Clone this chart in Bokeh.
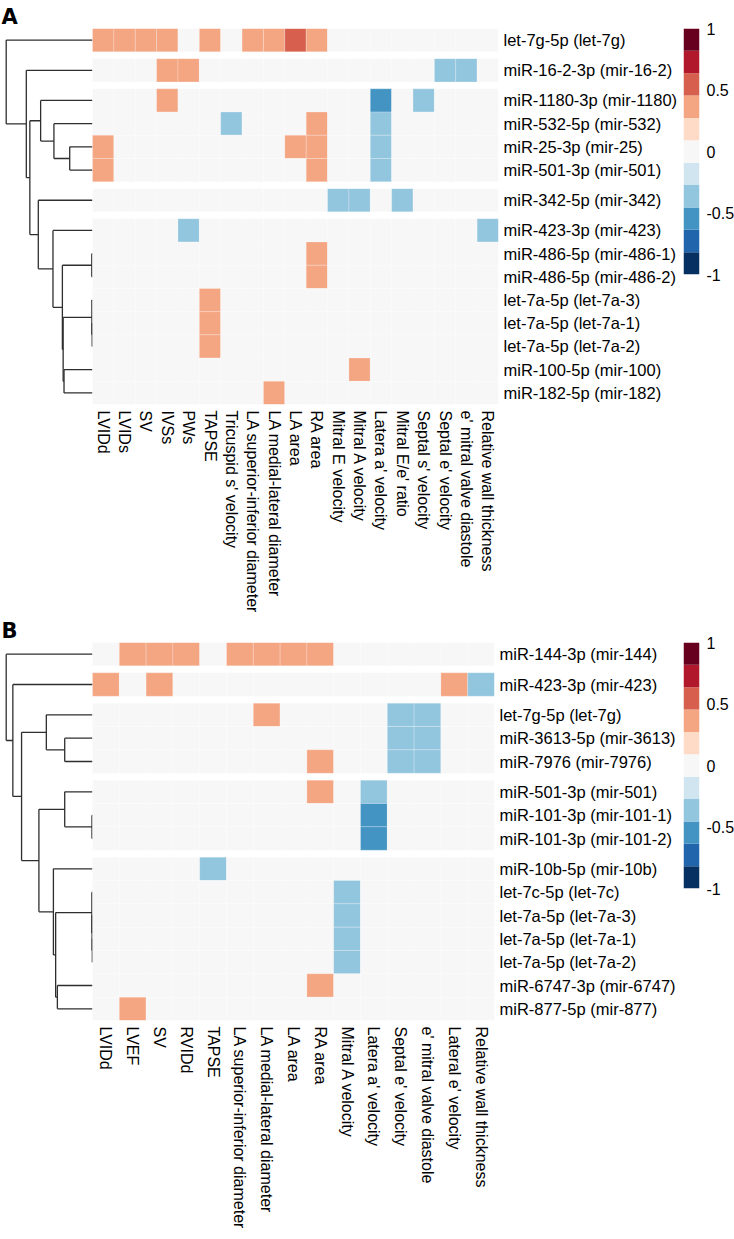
import math
import numpy as np
from bokeh.plotting import figure
from bokeh.models import Range1d, FixedTicker, LinearAxis, ColumnDataSource
from bokeh.layouts import row, column
from bokeh.transform import linear_cmap
from bokeh.embed import file_html
from bokeh.resources import INLINE

# ---------------- data ----------------
PALETTE = ["#053061", "#2166ac", "#4393c3", "#92c5de", "#d1e5f0", "#f7f7f7",
           "#fddbc7", "#f4a582", "#d6604d", "#b2182b", "#67001f"]
CBAR_TICKS = [-1, -0.5, 0, 0.5, 1]
CBAR_LABELS = ["-1", "-0.5", "0", "0.5", "1"]

cols_a = ["LVIDd", "LVIDs", "SV", "IVSs", "PWs", "TAPSE", "Tricuspid s' velocity",
          "LA superior-inferior diameter", "LA medial-lateral diameter", "LA area",
          "RA area", "Mitral E velocity", "Mitral A velocity", "Latera a' velocity",
          "Mitral E/e' ratio", "Septal s' velocity", "Septal e' velocity",
          "e' mitral valve diastole", "Relative wall thickness"]
rows_a = ["let-7g-5p (let-7g)", "miR-16-2-3p (mir-16-2)", "miR-1180-3p (mir-1180)",
          "miR-532-5p (mir-532)", "miR-25-3p (mir-25)", "miR-501-3p (mir-501)",
          "miR-342-5p (mir-342)", "miR-423-3p (mir-423)", "miR-486-5p (mir-486-1)",
          "miR-486-5p (mir-486-2)", "let-7a-5p (let-7a-3)", "let-7a-5p (let-7a-1)",
          "let-7a-5p (let-7a-2)", "miR-100-5p (mir-100)", "miR-182-5p (mir-182)"]
groups_a = [1, 1, 4, 1, 8]
vals_a = [
    [.35, .35, .35, .35, 0, .35, 0, .35, .35, .5, .35, 0, 0, 0, 0, 0, 0, 0, 0],
    [0, 0, 0, .35, .35, 0, 0, 0, 0, 0, 0, 0, 0, 0, 0, 0, -.35, -.35, 0],
    [0, 0, 0, .35, 0, 0, 0, 0, 0, 0, 0, 0, 0, -.5, 0, -.35, 0, 0, 0],
    [0, 0, 0, 0, 0, 0, -.35, 0, 0, 0, .35, 0, 0, -.35, 0, 0, 0, 0, 0],
    [.35, 0, 0, 0, 0, 0, 0, 0, 0, .35, .35, 0, 0, -.35, 0, 0, 0, 0, 0],
    [.35, 0, 0, 0, 0, 0, 0, 0, 0, 0, .35, 0, 0, -.35, 0, 0, 0, 0, 0],
    [0, 0, 0, 0, 0, 0, 0, 0, 0, 0, 0, -.35, -.35, 0, -.35, 0, 0, 0, 0],
    [0, 0, 0, 0, -.35, 0, 0, 0, 0, 0, 0, 0, 0, 0, 0, 0, 0, 0, -.35],
    [0, 0, 0, 0, 0, 0, 0, 0, 0, 0, .35, 0, 0, 0, 0, 0, 0, 0, 0],
    [0, 0, 0, 0, 0, 0, 0, 0, 0, 0, .35, 0, 0, 0, 0, 0, 0, 0, 0],
    [0, 0, 0, 0, 0, .35, 0, 0, 0, 0, 0, 0, 0, 0, 0, 0, 0, 0, 0],
    [0, 0, 0, 0, 0, .35, 0, 0, 0, 0, 0, 0, 0, 0, 0, 0, 0, 0, 0],
    [0, 0, 0, 0, 0, .35, 0, 0, 0, 0, 0, 0, 0, 0, 0, 0, 0, 0, 0],
    [0, 0, 0, 0, 0, 0, 0, 0, 0, 0, 0, 0, .35, 0, 0, 0, 0, 0, 0],
    [0, 0, 0, 0, 0, 0, 0, 0, .35, 0, 0, 0, 0, 0, 0, 0, 0, 0, 0],
]
# dendrogram: merges of leaves (0..14) / earlier clusters (15..), with relative heights
merges_a = [(11, 12), (10, 15), (8, 9), (4, 5), (13, 14), (16, 19), (17, 20),
            (3, 18), (7, 21), (2, 22), (6, 23), (24, 25), (1, 26), (0, 27)]
heights_a = [0.0035, 0.007, 0.008, 0.264, 0.330, 0.340, 0.349,
             0.447, 0.458, 0.601, 0.628, 0.726, 0.767, 1.0]

cols_b = ["LVIDd", "LVEF", "SV", "RVIDd", "TAPSE", "LA superior-inferior diameter",
          "LA medial-lateral diameter", "LA area", "RA area", "Mitral A velocity",
          "Latera a' velocity", "Septal e' velocity", "e' mitral valve diastole",
          "Lateral e' velocity", "Relative wall thickness"]
rows_b = ["miR-144-3p (mir-144)", "miR-423-3p (mir-423)", "let-7g-5p (let-7g)",
          "miR-3613-5p (mir-3613)", "miR-7976 (mir-7976)", "miR-501-3p (mir-501)",
          "miR-101-3p (mir-101-1)", "miR-101-3p (mir-101-2)", "miR-10b-5p (mir-10b)",
          "let-7c-5p (let-7c)", "let-7a-5p (let-7a-3)", "let-7a-5p (let-7a-1)",
          "let-7a-5p (let-7a-2)", "miR-6747-3p (mir-6747)", "miR-877-5p (mir-877)"]
groups_b = [1, 1, 3, 3, 7]
vals_b = [
    [0, .35, .35, .35, 0, .35, .35, .35, .35, 0, 0, 0, 0, 0, 0],
    [.35, 0, .35, 0, 0, 0, 0, 0, 0, 0, 0, 0, 0, .35, -.35],
    [0, 0, 0, 0, 0, 0, .35, 0, 0, 0, 0, -.35, -.35, 0, 0],
    [0, 0, 0, 0, 0, 0, 0, 0, 0, 0, 0, -.35, -.35, 0, 0],
    [0, 0, 0, 0, 0, 0, 0, 0, .35, 0, 0, -.35, -.35, 0, 0],
    [0, 0, 0, 0, 0, 0, 0, 0, .35, 0, -.35, 0, 0, 0, 0],
    [0, 0, 0, 0, 0, 0, 0, 0, 0, 0, -.5, 0, 0, 0, 0],
    [0, 0, 0, 0, 0, 0, 0, 0, 0, 0, -.5, 0, 0, 0, 0],
    [0, 0, 0, 0, -.35, 0, 0, 0, 0, 0, 0, 0, 0, 0, 0],
    [0, 0, 0, 0, 0, 0, 0, 0, 0, -.35, 0, 0, 0, 0, 0],
    [0, 0, 0, 0, 0, 0, 0, 0, 0, -.35, 0, 0, 0, 0, 0],
    [0, 0, 0, 0, 0, 0, 0, 0, 0, -.35, 0, 0, 0, 0, 0],
    [0, 0, 0, 0, 0, 0, 0, 0, 0, -.35, 0, 0, 0, 0, 0],
    [0, 0, 0, 0, 0, 0, 0, 0, .35, 0, 0, 0, 0, 0, 0],
    [0, .35, 0, 0, 0, 0, 0, 0, 0, 0, 0, 0, 0, 0, 0],
]
merges_b = [(11, 12), (10, 15), (9, 16), (6, 7), (3, 4), (5, 18), (13, 14),
            (17, 21), (8, 22), (2, 19), (20, 23), (24, 25), (1, 26), (0, 27)]
heights_b = [0.002, 0.005, 0.007, 0.006, 0.322, 0.322, 0.407,
             0.427, 0.453, 0.535, 0.621, 0.822, 0.923, 1.0]

# ---------------- layout constants ----------------
FONT = "Liberation Sans"
FS_ROW = "16.5px"
FS_COL = "16px"
DENDRO_PX = 92
ROOT_PAD = 5.7
FRAME_H = 378
ROW_U, GAP_U = 10, 3
FIG_W = 680
CB_LEFT, CB_W, CB_RIGHT = 3, 16, 35
CB_H = 246


def style_axis(ax, size):
    ax.axis_line_color = None
    ax.major_tick_line_color = None
    ax.minor_tick_line_color = None
    ax.major_tick_in = 0
    ax.major_tick_out = 0
    ax.minor_tick_in = 0
    ax.minor_tick_out = 0
    ax.major_label_text_font = FONT
    ax.major_label_text_font_size = size
    ax.major_label_text_color = "black"


def make_panel(letter, rows, cols, groups, vals, merges, heights, heat_px, top, bottom):
    ncol = len(cols)
    yc = []
    i = 0
    for g, n in enumerate(groups):
        for _ in range(n):
            yc.append(-(ROW_U * i + GAP_U * g))
            i += 1
    xc = [ROW_U * j + ROW_U / 2 for j in range(ncol)]
    x_end = ROW_U * ncol
    x_start = -x_end * DENDRO_PX / heat_px
    frame_w = heat_px + DENDRO_PX
    p = figure(width=FIG_W, height=top + FRAME_H + bottom,
               min_border_left=0, min_border_right=FIG_W - frame_w,
               min_border_top=top, min_border_bottom=bottom,
               x_range=Range1d(x_start, x_end),
               y_range=Range1d(yc[-1] - ROW_U / 2, ROW_U / 2),
               x_axis_location=None, y_axis_location=None,
               output_backend="svg", toolbar_location=None)
    p.outline_line_color = None
    p.background_fill_color = "white"
    p.border_fill_color = "white"
    p.grid.visible = False

    p.title.text = letter
    p.title.text_font = "DejaVu Sans"
    p.title.text_font_style = "bold"
    p.title.text_font_size = "21px"
    p.title.text_line_height = 1.0
    p.title.align = "left"
    p.title.offset = 1
    p.title.standoff = 0
    p.title.text_color = "black"

    # dendrogram
    xscale = (DENDRO_PX - ROOT_PAD) * x_end / heat_px / max(heights)
    node_y = list(yc)
    node_h = [0.0] * len(yc)
    x0, y0, x1, y1 = [], [], [], []
    for (a, b), h in zip(merges, heights):
        xp = -h * xscale
        x0.append(xp); y0.append(node_y[a]); x1.append(xp); y1.append(node_y[b])
        for c in (a, b):
            x0.append(xp); y0.append(node_y[c]); x1.append(-node_h[c] * xscale); y1.append(node_y[c])
        node_y.append((node_y[a] + node_y[b]) / 2)
        node_h.append(h)
    p.segment(x0, y0, x1, y1, line_color="#2e2e2e", line_width=1.3)

    # heatmap cells
    cx, cy, cv = [], [], []
    for r, rv in enumerate(vals):
        for j, v in enumerate(rv):
            cx.append(xc[j]); cy.append(yc[r]); cv.append(v)
    src = ColumnDataSource(dict(x=cx, y=cy, v=cv))
    p.rect(x="x", y="y", width=ROW_U, height=ROW_U, source=src,
           fill_color=linear_cmap("v", PALETTE, -1, 1),
           line_color="white", line_width=0.5, line_alpha=0.45)

    xax = LinearAxis(ticker=FixedTicker(ticks=xc, minor_ticks=[]),
                     major_label_overrides={x: c for x, c in zip(xc, cols)},
                     major_label_orientation=-math.pi / 2, major_label_standoff=6)
    style_axis(xax, FS_COL)
    p.add_layout(xax, "below")
    yax = LinearAxis(ticker=FixedTicker(ticks=yc, minor_ticks=[]),
                     major_label_overrides={y: r for y, r in zip(yc, rows)},
                     major_label_standoff=5)
    style_axis(yax, FS_ROW)
    p.add_layout(yax, "right")
    return p


def make_cbar(top):
    edges = np.linspace(-1, 1, len(PALETTE) + 1)
    c = figure(frame_width=CB_W, frame_height=CB_H,
               min_border_left=CB_LEFT, min_border_right=CB_RIGHT,
               min_border_top=top, min_border_bottom=14,
               x_range=Range1d(0, 1), y_range=Range1d(-1, 1),
               x_axis_location=None, y_axis_location=None,
               output_backend="svg", toolbar_location=None)
    c.outline_line_color = None
    c.grid.visible = False
    c.quad(left=0, right=1, bottom=edges[:-1], top=edges[1:], fill_color=PALETTE,
           line_color=None)
    ax = LinearAxis(ticker=FixedTicker(ticks=CBAR_TICKS, minor_ticks=[]),
                    major_label_overrides={t: l for t, l in zip(CBAR_TICKS, CBAR_LABELS)},
                    major_label_standoff=7)
    style_axis(ax, "16px")
    c.add_layout(ax, "right")
    return c


pa = make_panel("A", rows_a, cols_a, groups_a, vals_a, merges_a, heights_a, 406, 28, 210)
pb = make_panel("B", rows_b, cols_b, groups_b, vals_b, merges_b, heights_b, 402, 26, 212)
ca = make_cbar(28)
cb = make_cbar(26)

layout = column(row(pa, ca), row(pb, cb))
open("out.html", "w").write(file_html(layout, INLINE))
